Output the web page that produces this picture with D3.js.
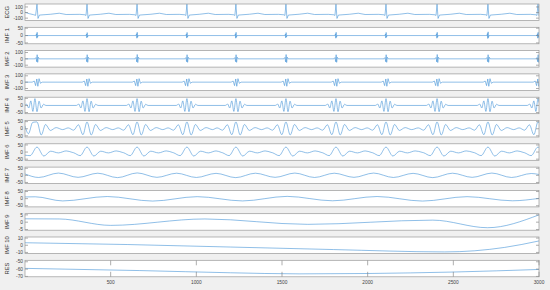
<!DOCTYPE html>
<html>
<head>
<meta charset="utf-8">
<script src="https://cdn.jsdelivr.net/npm/d3@7"></script>
<style>
  html, body { margin: 0; background: #f0f0f0; }
  svg { display: block; font-family: "Liberation Sans", Arial, sans-serif; }
</style>
</head>
<body>
<div id="chart"></div>
<script>
// values: [sample, amplitude]
const ecg = [[0,5],[25,-20],[50,-38],[62,-50],[70,150],[76,-105],[84,-45],[150,-30],[200,-12],[240,-35],
  [320,-32],[350,-40],[356,-52],[362,150],[368,-105],[376,-45],[440,-30],[490,-12],[530,-35],
  [610,-32],[642,-40],[648,-52],[654,150],[660,-105],[668,-45],[735,-30],[785,-12],[825,-35],
  [900,-32],[933,-40],[939,-52],[945,150],[951,-105],[959,-45],[1020,-30],[1070,-12],[1110,-35],
  [1190,-32],[1219,-40],[1225,-52],[1231,150],[1237,-105],[1245,-45],[1310,-30],[1360,-12],[1400,-35],
  [1480,-32],[1511,-40],[1517,-52],[1523,150],[1529,-105],[1537,-45],[1600,-30],[1650,-12],[1690,-35],
  [1770,-32],[1803,-40],[1809,-52],[1815,150],[1821,-105],[1829,-45],[1895,-30],[1945,-12],[1985,-35],
  [2065,-32],[2095,-40],[2101,-52],[2107,150],[2113,-105],[2121,-45],[2185,-30],[2235,-12],[2275,-35],
  [2360,-32],[2393,-40],[2399,-52],[2405,150],[2411,-105],[2419,-45],[2485,-30],[2535,-12],[2575,-35],
  [2660,-32],[2690,-40],[2696,-52],[2702,150],[2708,-105],[2716,-45],[2780,-30],[2830,-12],[2870,-35],
  [2950,-32],[2982,-40],[2988,-52],[2994,150],[3000,-60]];

const imf1 = [[0,0],[64,0],[67,12],[69,-18],[71,22],[73,-12],[76,0],
  [356,0],[359,10],[361,-16],[363,20],[365,-10],[368,0],
  [648,0],[651,12],[653,-18],[655,22],[657,-12],[660,0],
  [939,0],[942,11],[944,-17],[946,21],[948,-11],[951,0],
  [1225,0],[1228,12],[1230,-18],[1232,22],[1234,-12],[1237,0],
  [1517,0],[1520,10],[1522,-16],[1524,20],[1526,-10],[1529,0],
  [1809,0],[1812,12],[1814,-18],[1816,22],[1818,-12],[1821,0],
  [2101,0],[2104,11],[2106,-17],[2108,21],[2110,-11],[2113,0],
  [2399,0],[2402,12],[2404,-18],[2406,22],[2408,-12],[2411,0],
  [2696,0],[2699,14],[2701,-20],[2703,25],[2705,-14],[2708,0],
  [2988,0],[2991,12],[2993,-18],[2995,22],[2997,-12],[3000,0]];

const imf2 = [[0,0],[58,0],[64,20],[68,-45],[71,65],[74,-55],[78,25],[83,0],
  [350,0],[356,20],[360,-45],[363,65],[366,-55],[370,25],[375,0],
  [642,0],[648,22],[652,-48],[655,68],[658,-58],[662,26],[667,0],
  [933,0],[939,20],[943,-45],[946,65],[949,-55],[953,25],[958,0],
  [1219,0],[1225,20],[1229,-45],[1232,65],[1235,-55],[1239,25],[1244,0],
  [1511,0],[1517,22],[1521,-48],[1524,68],[1527,-58],[1531,26],[1536,0],
  [1803,0],[1809,20],[1813,-45],[1816,65],[1819,-55],[1823,25],[1828,0],
  [2095,0],[2101,20],[2105,-45],[2108,65],[2111,-55],[2115,25],[2120,0],
  [2393,0],[2399,22],[2403,-48],[2406,68],[2409,-58],[2413,26],[2418,0],
  [2690,0],[2696,20],[2700,-45],[2703,65],[2706,-55],[2710,25],[2715,0],
  [2982,0],[2988,20],[2992,-45],[2995,65],[2998,-55],[3000,0]];

const imf3 = [[0,0],[42,0],[54,18],[62,-55],[69,50],[75,-65],[82,55],[90,-18],[100,0],
  [334,0],[346,18],[354,-55],[361,50],[367,-65],[374,55],[382,-18],[392,0],
  [626,0],[638,18],[646,-55],[653,50],[659,-65],[666,55],[674,-18],[684,0],
  [917,0],[929,18],[937,-55],[944,50],[950,-65],[957,55],[965,-18],[975,0],
  [1203,0],[1215,18],[1223,-55],[1230,50],[1236,-65],[1243,55],[1251,-18],[1261,0],
  [1495,0],[1507,18],[1515,-55],[1522,50],[1528,-65],[1535,55],[1543,-18],[1553,0],
  [1787,0],[1799,18],[1807,-55],[1814,50],[1820,-65],[1827,55],[1835,-18],[1845,0],
  [2079,0],[2091,18],[2099,-55],[2106,50],[2112,-65],[2119,55],[2127,-18],[2137,0],
  [2377,0],[2389,18],[2397,-55],[2404,50],[2410,-65],[2417,55],[2425,-18],[2435,0],
  [2674,0],[2686,18],[2694,-55],[2701,50],[2707,-65],[2714,55],[2722,-18],[2732,0],
  [2966,0],[2978,18],[2986,-55],[2993,50],[2999,-65],[3000,-40]];

const imf4 = [[0,0],[8,10],[22,-18],[34,32],[46,-42],[58,48],[70,-44],[82,30],[94,-18],[108,8],[122,0],
  [300,0],[314,10],[326,-18],[338,32],[350,-42],[362,48],[374,-44],[386,30],[398,-18],[412,8],[426,0],
  [592,0],[606,10],[618,-18],[630,32],[642,-42],[654,48],[666,-44],[678,30],[690,-18],[704,8],[718,0],
  [883,0],[897,10],[909,-18],[921,32],[933,-42],[945,48],[957,-44],[969,30],[981,-18],[995,8],[1009,0],
  [1169,0],[1183,10],[1195,-18],[1207,32],[1219,-42],[1231,48],[1243,-44],[1255,30],[1267,-18],[1281,8],[1295,0],
  [1461,0],[1475,10],[1487,-18],[1499,32],[1511,-42],[1523,48],[1535,-44],[1547,30],[1559,-18],[1573,8],[1587,0],
  [1753,0],[1767,10],[1779,-18],[1791,32],[1803,-42],[1815,48],[1827,-44],[1839,30],[1851,-18],[1865,8],[1879,0],
  [2045,0],[2059,10],[2071,-18],[2083,32],[2095,-42],[2107,48],[2119,-44],[2131,30],[2143,-18],[2157,8],[2171,0],
  [2343,0],[2357,10],[2369,-18],[2381,32],[2393,-42],[2405,48],[2417,-44],[2429,30],[2441,-18],[2455,8],[2469,0],
  [2640,0],[2654,10],[2666,-18],[2678,32],[2690,-42],[2702,48],[2714,-44],[2726,30],[2738,-18],[2752,8],[2766,0],
  [2932,0],[2946,10],[2958,-18],[2970,32],[2982,-42],[2994,48],[3000,20]];

const imf5 = [[0,20],[20,-35],[45,45],[70,48],[95,-44],[120,30],[148,-12],[182,8],[220,-6],
  [252,6],[284,-10],[312,28],[338,-42],[362,48],[387,-44],[412,30],[440,-12],[474,8],[512,-6],
  [544,6],[576,-10],[604,28],[630,-42],[654,48],[679,-44],[704,30],[732,-12],[766,8],[804,-6],
  [835,6],[867,-10],[895,28],[921,-42],[945,48],[970,-44],[995,30],[1023,-12],[1057,8],[1095,-6],
  [1121,6],[1153,-10],[1181,28],[1207,-42],[1231,48],[1256,-44],[1281,30],[1309,-12],[1343,8],[1381,-6],
  [1413,6],[1445,-10],[1473,28],[1499,-42],[1523,48],[1548,-44],[1573,30],[1601,-12],[1635,8],[1673,-6],
  [1705,6],[1737,-10],[1765,28],[1791,-42],[1815,48],[1840,-44],[1865,30],[1893,-12],[1927,8],[1965,-6],
  [1997,6],[2029,-10],[2057,28],[2083,-42],[2107,48],[2132,-44],[2157,30],[2185,-12],[2219,8],[2257,-6],
  [2295,6],[2327,-10],[2355,28],[2381,-42],[2405,48],[2430,-44],[2455,30],[2483,-12],[2517,8],[2555,-6],
  [2592,6],[2624,-10],[2652,28],[2678,-42],[2702,48],[2727,-44],[2752,30],[2780,-12],[2814,8],[2852,-6],
  [2884,6],[2916,-10],[2944,28],[2970,-42],[2994,48],[3000,40]];

const imf6 = [[0,-22],[30,-25],[70,35],[110,-28],[150,6],[195,-6],[240,8],[275,-2],
  [284,-5],[322,-25],[362,35],[402,-28],[442,6],[487,-6],[532,8],[567,-2],
  [576,-5],[614,-25],[654,35],[694,-28],[734,6],[779,-6],[824,8],[859,-2],
  [867,-5],[905,-25],[945,35],[985,-28],[1025,6],[1070,-6],[1115,8],[1145,-2],
  [1153,-5],[1191,-25],[1231,35],[1271,-28],[1311,6],[1356,-6],[1401,8],[1436,-2],
  [1445,-5],[1483,-25],[1523,35],[1563,-28],[1603,6],[1648,-6],[1693,8],[1728,-2],
  [1737,-5],[1775,-25],[1815,35],[1855,-28],[1895,6],[1940,-6],[1985,8],[2020,-2],
  [2029,-5],[2067,-25],[2107,35],[2147,-28],[2187,6],[2232,-6],[2277,8],[2318,-2],
  [2327,-5],[2365,-25],[2405,35],[2445,-28],[2485,6],[2530,-6],[2575,8],[2615,-2],
  [2624,-5],[2662,-25],[2702,35],[2742,-28],[2782,6],[2827,-6],[2872,8],[2907,-2],
  [2916,-5],[2954,-25],[2994,35],[3000,30]];

const imf7 = [[0,10],[80,-15],[195,16],[310,-14],[425,15],[540,-16],[655,17],[770,-14],[885,15],
  [1000,-15],[1115,14],[1230,-16],[1345,15],[1460,-14],[1575,16],[1690,-15],[1805,15],[1920,-14],
  [2035,16],[2150,-15],[2265,14],[2380,-16],[2495,15],[2610,-14],[2725,16],[2840,-15],[2955,13],[3000,6]];

const imf8 = [[0,12],[60,13],[220,-16],[480,15],[745,-17],[1005,14],[1270,-16],[1530,16],[1795,-15],
  [2055,15],[2320,-17],[2580,14],[2845,-15],[3000,2]];

const imf9 = [[0,2.3],[200,2.2],[500,-2.2],[1050,2.2],[1650,-1.5],[2380,1.4],[2700,-3.8],[3000,5]];

const imf10 = [[0,3.5],[600,1],[1200,-2.5],[1800,-6],[2450,-9.3],[2800,-3],[3000,6]];

const res = [[0,-59],[670,-62],[1200,-65],[1600,-66.5],[2000,-66],[2500,-64],[3000,-60.5]];

const panelNames = ['ECG', 'IMF 1', 'IMF 2', 'IMF 3', 'IMF 4', 'IMF 5',
  'IMF 6', 'IMF 7', 'IMF 8', 'IMF 9', 'IMF 10', 'RES'];
const panelSeries = [ecg, imf1, imf2, imf3, imf4, imf5, imf6, imf7, imf8, imf9, imf10, res];
const panelTicks = [[-100, 0, 100], [-50, 0, 50], [-100, 0, 100], [-100, 0, 100],
  [-50, 0, 50], [-50, 0, 50], [-50, 0, 50], [-50, 0, 50], [-50, 0, 50],
  [-5, 0, 5], [-10, 0, 10], [-70, -60, -50]];
const xTicks = [500, 1000, 1500, 2000, 2500, 3000];

const width = 550, height = 290;
const left = 25, right = 539, top0 = 4, pitch = 23.3, ph = 16.5;
// y domains per panel (scale setup, not data)
const domains = [[-142, 153], [-56, 56], [-130, 130], [-130, 130], [-58, 58], [-58, 58],
  [-58, 58], [-58, 58], [-58, 58], [-5.5, 5.8], [-11.5, 11.5], [-70.5, -48]];
const smooth = [false, false, false, false, true, true, true, true, true, true, true, true];

const svg = d3.select('#chart').append('svg')
  .attr('width', width)
  .attr('height', height);

const x = d3.scaleLinear().domain([0, 3000]).range([left, right]);

panelSeries.forEach((data, i) => {
  const y0 = top0 + i * pitch;
  const y = d3.scaleLinear().domain(domains[i]).range([y0 + ph, y0]);
  const g = svg.append('g');

  g.append('rect')
    .attr('x', left).attr('y', y0)
    .attr('width', right - left).attr('height', ph)
    .attr('fill', '#fff');

  const clipId = 'clip' + i;
  g.append('clipPath').attr('id', clipId)
    .append('rect').attr('x', left).attr('y', y0).attr('width', right - left).attr('height', ph);

  const line = d3.line()
    .x((d) => x(d[0]))
    .y((d) => y(d[1]))
    .curve(smooth[i] ? d3.curveMonotoneX : d3.curveLinear);

  g.append('path')
    .datum(data)
    .attr('clip-path', `url(#${clipId})`)
    .attr('fill', 'none')
    .attr('stroke', '#4494d6')
    .attr('stroke-width', 0.6)
    .attr('d', line);

  // y ticks, inward on both sides
  const yt = g.append('g').attr('stroke', '#777').attr('stroke-width', 0.6);
  panelTicks[i].forEach((t) => {
    yt.append('line').attr('x1', left).attr('x2', left + 3).attr('y1', y(t)).attr('y2', y(t));
    yt.append('line').attr('x1', right - 3).attr('x2', right).attr('y1', y(t)).attr('y2', y(t));
  });
  g.selectAll('text.yt')
    .data(panelTicks[i])
    .join('text')
    .attr('x', left - 2)
    .attr('y', (d) => y(d))
    .attr('dy', '0.35em')
    .attr('text-anchor', 'end')
    .attr('font-size', 4.8)
    .attr('fill', '#444')
    .text((d) => d);

  g.append('text')
    .attr('transform', `translate(9,${y0 + ph / 2}) rotate(-90)`)
    .attr('text-anchor', 'middle')
    .attr('font-size', 5.8)
    .attr('fill', '#333')
    .text(panelNames[i]);

  // bottom panel carries the x ticks (top and bottom, inward)
  if (i === panelSeries.length - 1) {
    const xt = g.append('g').attr('stroke', '#777').attr('stroke-width', 0.6);
    xTicks.forEach((t) => {
      xt.append('line').attr('x1', x(t)).attr('x2', x(t)).attr('y1', y0).attr('y2', y0 + 5);
      xt.append('line').attr('x1', x(t)).attr('x2', x(t)).attr('y1', y0 + ph - 5).attr('y2', y0 + ph);
    });
    g.selectAll('text.xt')
      .data(xTicks)
      .join('text')
      .attr('x', (d) => x(d))
      .attr('y', y0 + ph + 7)
      .attr('text-anchor', 'middle')
      .attr('font-size', 4.8)
      .attr('fill', '#444')
      .text((d) => d);
  }

  g.append('rect')
    .attr('x', left).attr('y', y0)
    .attr('width', right - left).attr('height', ph)
    .attr('fill', 'none')
    .attr('stroke', '#999')
    .attr('stroke-width', 0.7);
});
</script>
</body>
</html>
